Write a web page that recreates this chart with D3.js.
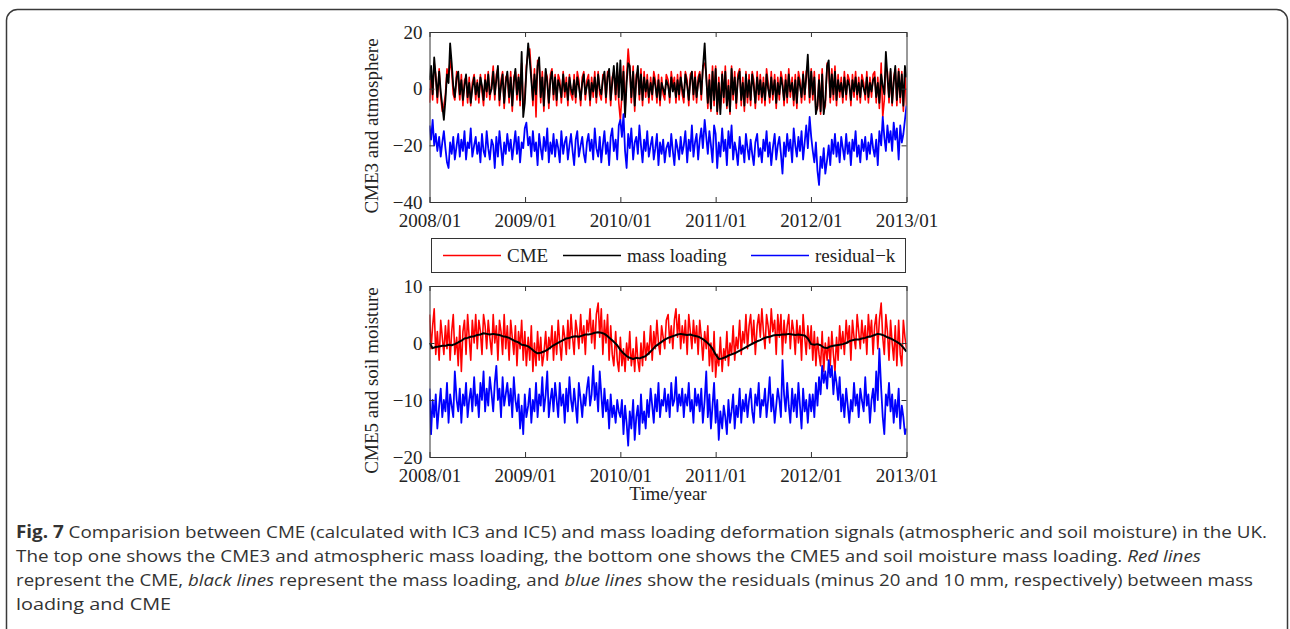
<!DOCTYPE html>
<html><head><meta charset="utf-8">
<script src="https://cdn.jsdelivr.net/npm/d3@7"></script>
<style>
html,body{margin:0;padding:0;background:#fff;}
svg{display:block;}
</style></head>
<body>
<svg id="chart" width="1290" height="629"></svg>
<script>
// ---------- DATA (evenly sampled over 2008/01 .. 2013/01) ----------
const startDate = "2008-01-01";
const endDate = "2013-01-01";
const xTickLabels = ["2008/01","2009/01","2010/01","2011/01","2012/01","2013/01"];
const topYTicks = [20, 0, -20, -40];
const botYTicks = [10, 0, -10, -20];
const seriesNames = ["CME", "mass loading", "residual\u2212k"];

// top panel: CME3 (red), atmospheric loading (black), residual-20 (blue); 60 samples / year
const topCME = [
 -5,6,-4,9,5,-5,7,-3,-8,-6, -2,7,4,10,6,-2,-4,6,3,-4, 5,-6,3,4,-5,4,-6,2,5,-4,
 3,-5,5,-1,-6,5,-3,6,-4,2, 8,-4,5,7,-6,3,6,-7,4,5, -5,6,-8,4,6,-4,5,-6,9,-7,
 -3,8,13,14,5,-6,7,-10,10,9, -5,6,-8,6,4,-7,5,7,-4,5, -6,5,3,-5,6,-3,4,-6,5,-2,
 -4,5,-5,6,3,-6,4,6,-4,3, 5,-6,4,-3,6,-5,6,-2,-4,5, 5,-5,6,6,-6,4,6,-4,7,-5,
 -11,-2,8,-8,4,14,7,-5,8,-8, 5,6,-4,7,-6,6,-3,5,-5,4, -4,6,3,-5,5,-6,4,-2,-4,5,
 3,-5,6,1,4,-5,5,-4,6,-2, -5,6,3,-6,5,6,-4,6,-5,4, 6,-4,8,9,5,-7,5,-8,8,-6,
 8,-9,4,-7,6,-5,8,-7,3,-9, 8,-4,6,-7,5,7,-6,4,-8,6, -5,5,-6,6,3,-7,6,-4,5,-5,
 4,-6,7,2,-5,6,-4,5,-7,4, -4,6,3,-6,5,-5,7,-3,4,-6, 5,-7,6,3,-5,6,-4,6,8,-5,
 7,-4,6,-8,-7,5,-9,7,-8,-6, 9,7,-5,7,-4,8,-6,5,-3,4, -5,6,-4,5,3,-6,5,-3,6,-4,
 4,-5,5,2,-4,6,-5,4,-3,5, 6,-5,4,-7,9,-10,-4,8,6,-5, 6,-6,4,7,-6,7,-5,6,-8,6,
 -6];
const topLoading = [
 3,8,-2,11,4,-3,6,-1,-6,-11, -4,5,2,16,9,1,-3,4,6,-2, 3,-4,1,5,-3,2,-5,0,4,-2,
 2,-3,4,1,-4,3,-1,5,-2,0, 6,-2,3,8,-4,1,5,-5,2,6, -3,4,-6,2,7,-2,4,-4,13,-10,
 -5,6,16,10,3,-4,5,-2,8,11, -3,4,-6,7,2,-5,3,6,-2,4, -4,3,1,-3,5,-1,2,-4,4,0,
 -2,3,-3,4,1,-4,2,5,-2,1, 3,-4,2,-1,4,-3,5,0,-2,3, 6,-3,4,7,-4,2,8,-2,9,-3,
 10,-4,6,-10,2,9,8,-3,6,-6, 3,8,-2,5,-4,4,-1,3,-3,2, -2,4,1,-3,3,-4,2,0,-2,3,
 1,-3,4,-1,2,-3,3,-2,4,0, -3,5,1,-4,3,6,-2,4,-3,2, 5,-2,7,16,4,-5,3,-7,6,-4,
 7,-8,2,-9,5,-3,6,-6,1,-8, 7,-2,4,-5,3,6,-4,2,-6,5, -3,3,-4,5,1,-5,4,-2,3,-3,
 2,-4,5,0,-3,4,-2,3,-5,2, -2,4,1,-4,3,-3,5,-1,2,-4, 3,-5,4,1,-3,5,-2,4,12,-3,
 6,-2,4,-9,-6,3,-8,5,-9,-4, 8,10,-3,5,-2,6,-4,3,-1,2, -3,4,-2,3,1,-4,3,-1,4,-2,
 2,-3,3,0,-2,4,-3,2,-1,3, 4,-3,2,-5,5,1,-2,13,4,-3, 7,-5,2,8,-4,6,-3,5,-6,8,
 4];
const topResidual = [
 -13,-18,-11,-20,-16,-22,-17,-24,-19,-15, -21,-26,-28,-19,-23,-17,-25,-20,-16,-24, -18,-22,-15,-25,-19,-21,-14,-24,-20,-17,
 -23,-19,-26,-16,-22,-24,-15,-21,-25,-18, -20,-28,-17,-24,-15,-21,-27,-19,-23,-16, -22,-18,-25,-20,-15,-23,-17,-26,-19,-21,
 -14,-12,-20,-17,-24,-15,-22,-19,-27,-16, -21,-25,-17,-22,-14,-26,-19,-23,-16,-24, -18,-21,-26,-15,-23,-19,-17,-25,-20,-16,
 -22,-27,-18,-15,-24,-20,-17,-23,-26,-19, -16,-22,-18,-25,-14,-21,-24,-17,-26,-20, -15,-23,-19,-27,-17,-14,-22,-18,-25,-13,
 -11,-17,-9,-22,-28,-16,-21,-14,-25,-19, -17,-23,-13,-20,-26,-18,-22,-15,-24,-20, -17,-25,-21,-16,-27,-19,-23,-18,-26,-21,
 -19,-24,-16,-22,-27,-18,-21,-25,-17,-23, -20,-15,-26,-18,-22,-13,-24,-19,-16,-25, -18,-14,-21,-11,-17,-23,-15,-20,-26,-13,
 -16,-28,-19,-24,-14,-22,-18,-27,-15,-21, -13,-25,-19,-22,-27,-17,-23,-20,-26,-16, -21,-25,-18,-23,-27,-19,-16,-24,-21,-26,
 -18,-22,-15,-24,-19,-27,-21,-16,-25,-20, -17,-23,-30,-19,-24,-16,-22,-18,-26,-14, -20,-24,-17,-22,-15,-25,-19,-13,-21,-10,
 -17,-22,-26,-19,-29,-34,-24,-28,-21,-30, -25,-20,-27,-18,-23,-16,-24,-19,-26,-17, -21,-25,-16,-23,-19,-27,-18,-22,-15,-24,
 -20,-26,-18,-22,-17,-25,-19,-23,-16,-21, -24,-18,-27,-15,-20,-10,-17,-22,-13,-19, -15,-22,-12,-18,-14,-25,-13,-19,-16,-11,
 -6];

// bottom panel: CME5 (red), soil moisture loading (black, 30 samples / year), residual-10 (blue)
const botCME = [
 5,-1,3,6,-2,2,-3,4,1,-2, 3,-1,4,-3,2,5,-2,1,-4,3, -5,2,4,-2,5,1,-3,4,0,5,
 -1,4,2,-2,5,3,-1,4,1,-2, 5,0,3,-3,4,2,-2,5,-1,3, -3,4,1,-2,3,-4,2,-1,4,-3,
 2,-4,1,-3,3,-5,0,-4,2,-3, 1,-4,-2,2,-3,1,-1,3,-3,2, -2,4,0,-3,3,1,-2,4,-1,5,
 1,-2,4,2,-1,5,0,3,-2,4, 2,6,0,4,-1,5,7,1,6,-2, 4,0,5,-3,3,-2,-4,2,-3,-5,
 1,-4,-1,-5,0,-3,2,-4,-1,-5, 1,-3,-5,0,-4,2,-3,0,-2,3, -3,2,-1,4,0,-2,3,1,-1,4,
 5,0,3,-1,4,6,1,5,-1,3, 0,4,-2,5,2,-1,4,0,3,-2, 4,1,-3,2,-1,3,-4,0,-5,2,
 -6,-2,-4,1,-5,-1,-3,2,-4,0, -2,3,-3,1,-1,4,-2,2,0,5, -1,3,5,0,4,-2,3,5,1,6,
 2,-1,5,3,0,6,2,4,-2,5, 1,5,-2,4,0,3,5,-1,4,2, -2,4,0,3,-3,5,1,-2,3,-1,
 3,-3,2,-4,1,-2,-4,2,-5,0, -3,1,-4,2,-2,-5,1,-3,3,-1, 2,-2,4,0,3,-3,4,1,-1,5,
 2,-1,4,0,3,-2,5,1,4,-2, 3,5,-1,4,7,1,-2,5,2,-3, 4,0,-3,3,-4,4,-2,-4,4,1,
 -1];
const botLoading = [
 0,-0.9,-0.7,-0.6,-0.5,-0.5,-0.3,-0.4,-0.2,0.1,
 0.4,0.8,0.9,1.1,1.2,1.4,1.5,1.7,1.6,1.5,
 1.6,1.5,1.4,1.2,1.1,0.9,0.6,0.3,0.1,-0.3,
 -0.4,-0.6,-1.0,-1.5,-1.8,-1.7,-1.5,-1.2,-0.8,-0.4,
 -0.1,0.2,0.5,0.8,0.9,1.1,1.2,1.1,1.3,1.5,
 1.5,1.6,1.8,1.9,1.8,1.6,1.2,0.7,0.2,-0.4,
 -1.2,-1.8,-2.3,-2.6,-2.8,-2.6,-2.7,-2.5,-2.3,-1.8,
 -1.2,-0.6,-0.2,0.2,0.6,0.9,1.1,1.3,1.5,1.6,
 1.5,1.4,1.5,1.3,1.2,1.0,0.7,0.2,-0.3,-1.0,
 -2.0,-2.8,-2.7,-2.5,-2.2,-2.0,-1.8,-1.5,-1.2,-0.9,
 -0.6,-0.3,0.0,0.3,0.5,0.8,1.0,1.1,1.3,1.4,
 1.4,1.5,1.5,1.6,1.5,1.4,1.5,1.4,1.3,0.8,
 -0.2,-0.3,-0.2,-0.4,-0.8,-0.9,-0.6,-0.5,-0.4,-0.3,
 -0.2,0.0,0.3,0.5,0.6,0.6,0.8,0.9,1.1,1.2,
 1.4,1.6,1.5,1.3,1.0,0.8,0.5,0.2,-0.2,-0.8,-1.5];
const botResidual = [
 -8,-16,-10,-13,-9,-15,-11,-8,-13,-10, -12,-7,-14,-9,-11,-13,-5,-10,-12,-8, -14,-9,-11,-7,-13,-10,-8,-12,-6,-11,
 -9,-13,-7,-10,-5,-12,-8,-11,-6,-9, -12,-7,-4,-10,-8,-13,-6,-11,-9,-7, -11,-8,-13,-6,-10,-12,-9,-15,-11,-16,
 -9,-13,-11,-8,-14,-10,-12,-7,-13,-9, -11,-6,-12,-9,-5,-13,-10,-8,-12,-7, -10,-13,-7,-11,-9,-14,-8,-12,-6,-10,
 -12,-8,-11,-14,-7,-10,-13,-9,-11,-8, -6,-11,-9,-4,-10,-7,-12,-5,-9,-13, -8,-12,-10,-15,-9,-13,-11,-14,-10,-12,
 -13,-10,-16,-11,-14,-18,-12,-15,-10,-17, -13,-11,-16,-9,-14,-12,-15,-10,-13,-8, -11,-14,-9,-12,-7,-13,-10,-11,-8,-12,
 -9,-13,-7,-11,-10,-6,-12,-9,-11,-8, -13,-9,-11,-7,-12,-10,-14,-8,-11,-9, -12,-8,-14,-10,-5,-13,-9,-15,-11,-7,
 -14,-10,-17,-12,-15,-11,-13,-16,-10,-14, -12,-9,-15,-11,-13,-8,-14,-10,-12,-9, -13,-10,-8,-12,-14,-9,-11,-7,-13,-10,
 -11,-8,-13,-10,-6,-12,-9,-14,-11,-8, -10,-13,-3,-9,-12,-7,-11,-14,-8,-12, -9,-13,-7,-11,-15,-8,-12,-10,-14,-9,
 -12,-9,-13,-7,-11,-6,-9,-4,-7,-5, -8,-3,-6,-4,-9,-5,-7,-10,-6,-12, -9,-13,-8,-11,-14,-10,-12,-7,-11,-9,
 -13,-8,-10,-12,-6,-11,-9,-14,-10,-8, -12,-5,-10,-1,-8,-13,-16,-9,-11,-7, -12,-9,-14,-10,-13,-8,-15,-11,-13,-16,
 -15];

const captionLines = [
 [["b","Fig. 7"],["n"," Comparision between CME (calculated with IC3 and IC5) and mass loading deformation signals (atmospheric and soil moisture) in the UK."]],
 [["n","The top one shows the CME3 and atmospheric mass loading, the bottom one shows the CME5 and soil moisture mass loading. "],["i","Red lines"]],
 [["n","represent the CME, "],["i","black lines"],["n"," represent the mass loading, and "],["i","blue lines"],["n"," show the residuals (minus 20 and 10 mm, respectively) between mass"]],
 [["n","loading and CME"]]
];

// ---------- DRAW ----------
const svg = d3.select("#chart");
const colors = ["#ff0000", "#000000", "#0000ff"];
const serif = "'Liberation Serif','Times New Roman',serif";

svg.append("rect").attr("x", 6.5).attr("y", 9.5).attr("width", 1281).attr("height", 660)
  .attr("rx", 11).attr("fill", "none").attr("stroke", "#3a3a3a").attr("stroke-width", 1.5);

const parse = d3.timeParse("%Y-%m-%d");
const d0 = parse(startDate), d1 = parse(endDate);
const nDays = d3.timeDay.count(d0, d1);
const x = d3.scaleTime().domain([d0, d1]).range([429.5, 906.5]);
const tickDates = xTickLabels.map(s => d3.timeParse("%Y/%m")(s));

function dateAt(i, n) { return d3.timeDay.offset(d0, Math.round(i * nDays / (n - 1))); }

function panel(top, bottom, yDomain, yTicks, label, series, widths) {
  const y = d3.scaleLinear().domain(yDomain).range([bottom, top]);
  const g = svg.append("g");
  const clipId = "clip" + Math.round(top);
  svg.append("clipPath").attr("id", clipId).append("rect")
    .attr("x", x.range()[0]).attr("y", top).attr("width", x.range()[1] - x.range()[0]).attr("height", bottom - top);
  const lines = g.append("g").attr("clip-path", `url(#${clipId})`);
  series.forEach((s, k) => {
    const line = d3.line().x((d, i) => x(dateAt(i, s.length))).y(d => y(d));
    lines.append("path").datum(s).attr("d", line).attr("fill", "none")
      .attr("stroke", colors[k]).attr("stroke-width", widths[k]).attr("stroke-linejoin", "round");
  });
  const ax = d3.axisBottom(x).tickValues(tickDates).tickFormat((d, i) => xTickLabels[i]).tickSizeInner(-5).tickSizeOuter(0).tickPadding(12);
  const axT = d3.axisTop(x).tickValues(tickDates).tickFormat("").tickSizeInner(-5).tickSizeOuter(0);
  const ay = d3.axisLeft(y).tickValues(yTicks).tickFormat(d => d < 0 ? "\u2212" + Math.abs(d) : d).tickSizeInner(-5).tickSizeOuter(0).tickPadding(7);
  const ayR = d3.axisRight(y).tickValues(yTicks).tickFormat("").tickSizeInner(-5).tickSizeOuter(0);
  const style = sel => {
    sel.selectAll("path").attr("stroke", "#333");
    sel.selectAll("line").attr("stroke", "#333");
    sel.selectAll("text").attr("font-family", serif).attr("font-size", 19).attr("fill", "#222");
  };
  g.append("g").attr("transform", `translate(0,${bottom})`).call(ax).call(style);
  g.append("g").attr("transform", `translate(0,${top})`).call(axT).call(style);
  g.append("g").attr("transform", `translate(${x.range()[0]},0)`).call(ay).call(style);
  g.append("g").attr("transform", `translate(${x.range()[1]},0)`).call(ayR).call(style);
  g.append("text").attr("transform", `translate(378,${(top + bottom) / 2 + 9}) rotate(-90)`)
    .attr("text-anchor", "middle").attr("font-family", serif).attr("font-size", 19).attr("fill", "#222").text(label);
  return y;
}

panel(32, 202, [-40, 20], topYTicks, "CME3 and atmosphere", [topCME, topLoading, topResidual], [1.6, 1.8, 1.8]);
panel(286, 457, [-20, 10], botYTicks, "CME5 and soil moisture", [botCME, botLoading, botResidual], [1.6, 2, 1.8]);

svg.append("text").attr("x", 668).attr("y", 500).attr("text-anchor", "middle")
  .attr("font-family", serif).attr("font-size", 19).attr("fill", "#222").text("Time/year");

// legend
const lg = svg.append("g");
lg.append("rect").attr("x", 431.5).attr("y", 238.5).attr("width", 474).attr("height", 34)
  .attr("fill", "#fff").attr("stroke", "#333").attr("stroke-width", 1);
const legX = [443, 563, 751];
seriesNames.forEach((name, k) => {
  lg.append("line").attr("x1", legX[k]).attr("x2", legX[k] + 58).attr("y1", 255.5).attr("y2", 255.5)
    .attr("stroke", colors[k]).attr("stroke-width", 1.5);
  lg.append("text").attr("x", legX[k] + 64).attr("y", 262).attr("font-family", serif).attr("font-size", 19)
    .attr("fill", "#222").text(name);
});

// caption
const capY = [538, 562, 586, 610];
const capW = [1251, 1185, 1237, 155];
const sans = "'Open Sans','Noto Sans',sans-serif";
captionLines.forEach((parts, li) => {
  const t = svg.append("text").attr("x", 16).attr("y", capY[li]).attr("font-family", sans)
    .attr("font-size", 17).attr("fill", "#333");
  parts.forEach(([kind, str]) => {
    const ts = t.append("tspan").text(str);
    if (kind === "b") ts.attr("font-weight", "bold");
    if (kind === "i") ts.attr("font-style", "italic");
  });
  t.attr("textLength", capW[li]).attr("lengthAdjust", "spacingAndGlyphs");
});
</script>
</body></html>
